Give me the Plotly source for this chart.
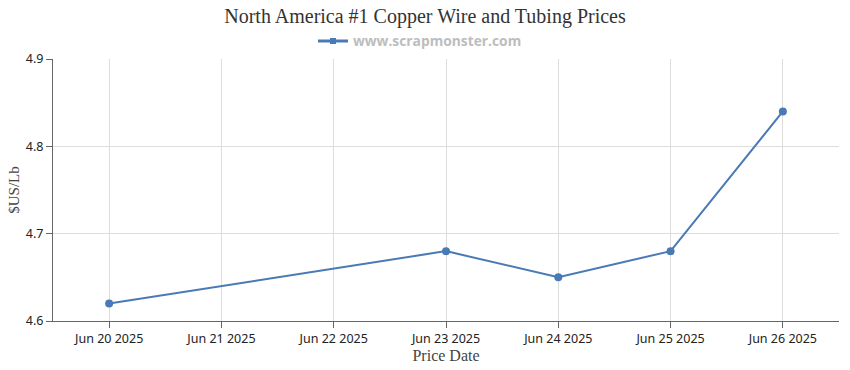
import plotly.graph_objects as go

dates = ["2025-06-20", "2025-06-23", "2025-06-24", "2025-06-25", "2025-06-26"]
prices = [4.62, 4.68, 4.65, 4.68, 4.84]
tick_dates = ["2025-06-20", "2025-06-21", "2025-06-22", "2025-06-23", "2025-06-24", "2025-06-25", "2025-06-26"]
tick_labels = ["Jun 20 2025", "Jun 21 2025", "Jun 22 2025", "Jun 23 2025", "Jun 24 2025", "Jun 25 2025", "Jun 26 2025"]
y_ticks = [4.6, 4.7, 4.8, 4.9]
series_name = "www.scrapmonster.com"

line_color = "#4a7ab5"
tick_font = dict(family="Noto Sans, DejaVu Sans, sans-serif", size=12.5, color="#222")
serif = "Liberation Serif, Times New Roman, serif"

fig = go.Figure()
fig.add_trace(go.Scatter(
    x=dates, y=prices, mode="lines+markers",
    name=series_name, showlegend=False,
    line=dict(color=line_color, width=2),
    marker=dict(color=line_color, size=8),
))
# legend entry (square marker symbol, as in the original legend)
fig.add_trace(go.Scatter(
    x=[None], y=[None], mode="lines+markers",
    name=series_name, showlegend=True,
    line=dict(color=line_color, width=3),
    marker=dict(color=line_color, size=6, symbol="square"),
))

fig.update_layout(
    width=850, height=370,
    margin=dict(l=53, r=11, t=59, b=49, autoexpand=False),
    paper_bgcolor="white", plot_bgcolor="white",
    title=dict(text="North America #1 Copper Wire and Tubing Prices",
               x=0.5, xref="container", xanchor="center",
               y=1 - 16 / 370, yref="container", yanchor="middle",
               font=dict(family=serif, size=20, color="#333")),
    showlegend=True,
    legend=dict(orientation="h", x=313 / 850, xref="container", xanchor="left",
                y=1 - 41 / 370, yref="container", yanchor="middle",
                font=dict(family="Open Sans, sans-serif", size=13.8, color="#bdbdbd", weight="bold"),
                itemwidth=30, bgcolor="rgba(0,0,0,0)"),
    xaxis=dict(
        type="date", automargin=False,
        range=["2025-06-19 12:00", "2025-06-26 12:00"],
        tickvals=tick_dates, ticktext=tick_labels,
        tickfont=tick_font,
        showgrid=True, gridcolor="#dddddd", gridwidth=1,
        showline=True, linecolor="#666", linewidth=1,
        ticks="outside", ticklen=6, tickcolor="#666",
        zeroline=False,
        title=dict(text="Price Date", font=dict(family=serif, size=16, color="#444"), standoff=0),
    ),
    yaxis=dict(
        range=[4.6, 4.9], automargin=False,
        tickvals=y_ticks, ticktext=[f"{v:.1f}" for v in y_ticks],
        tickfont=tick_font,
        showgrid=True, gridcolor="#dddddd", gridwidth=1,
        showline=True, linecolor="#666", linewidth=1,
        ticks="outside", ticklen=6, tickcolor="#666",
        zeroline=False,
        title=dict(text="$US/Lb", font=dict(family=serif, size=15, color="#444"), standoff=2),
    ),
)

fig.write_html("out.html", config={"displayModeBar": False},
               post_script="document.body.style.margin='0';")
